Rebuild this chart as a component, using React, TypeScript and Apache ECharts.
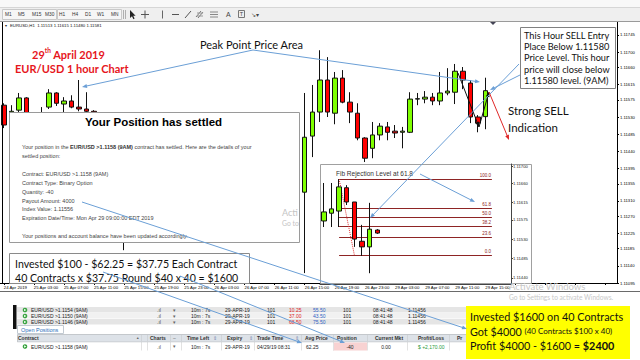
import React, { useEffect, useRef } from 'react';
import * as echarts from 'echarts';

// ---------------- data ----------------
const timeTickLabels = [
  '24 Apr 2019', '25 Apr 03:00', '25 Apr 07:00', '25 Apr 11:00', '25 Apr 15:00', '25 Apr 19:00',
  '25 Apr 23:00', '26 Apr 03:00', '26 Apr 07:00', '26 Apr 11:00', '26 Apr 15:00', '26 Apr 19:00',
  '26 Apr 23:00', '29 Apr 03:00', '29 Apr 07:00', '29 Apr 11:00', '29 Apr 15:00',
];
const barsPerTick = 4;
const mainSlots = 82;
// EURUSD H1 candles: [open, close, low, high]
const mainCandles = [
  [1.11543, 1.11491, 1.11483, 1.11548],
  [1.11517, 1.11527, 1.11512, 1.11543],
  [1.11530, 1.11562, 1.11525, 1.11575],
  [1.11562, 1.11504, 1.11499, 1.11564],
  [1.11504, 1.11495, 1.11485, 1.11515],
  [1.11495, 1.11520, 1.11488, 1.11538],
  [1.11538, 1.11575, 1.11533, 1.11585],
  [1.11575, 1.11548, 1.11541, 1.11577],
  [1.11546, 1.11554, 1.11525, 1.11564],
  [1.11554, 1.11538, 1.11535, 1.11569],
  [1.11538, 1.11533, 1.11527, 1.11609],
  [1.11533, 1.11527, 1.11522, 1.11577],
  [1.11527, 1.11510, 1.11500, 1.11530],
  [1.11510, 1.11480, 1.11470, 1.11515],
  [1.11480, 1.11395, 1.11380, 1.11485],
  [1.11395, 1.11290, 1.11270, 1.11400],
  [1.11290, 1.11215, 1.11163, 1.11300],
  [1.11215, 1.11245, 1.11195, 1.11260],
  [1.11245, 1.11230, 1.11220, 1.11280],
  [1.11230, 1.11210, 1.11200, 1.11255],
  [1.11210, 1.11225, 1.11190, 1.11240],
  [1.11225, 1.11240, 1.11210, 1.11250],
  [1.11240, 1.11250, 1.11225, 1.11265],
  [1.11250, 1.11245, 1.11235, 1.11270],
  [1.11245, 1.11255, 1.11230, 1.11260],
  [1.11255, 1.11270, 1.11245, 1.11280],
  [1.11270, 1.11265, 1.11255, 1.11290],
  [1.11265, 1.11250, 1.11240, 1.11275],
  [1.11250, 1.11240, 1.11230, 1.11265],
  [1.11240, 1.11225, 1.11215, 1.11255],
  [1.11225, 1.11245, 1.11210, 1.11250],
  [1.11245, 1.11260, 1.11235, 1.11270],
  [1.11260, 1.11235, 1.11230, 1.11275],
  [1.11235, 1.11215, 1.11205, 1.11250],
  [1.11215, 1.11230, 1.11200, 1.11240],
  [1.11230, 1.11240, 1.11215, 1.11255],
  [1.11240, 1.11260, 1.11220, 1.11270],
  [1.11260, 1.11285, 1.11245, 1.11295],
  [1.11285, 1.11300, 1.11270, 1.11310],
  [1.11300, 1.11315, 1.11285, 1.11325],
  [1.11315, 1.11459, 1.11103, 1.11575],
  [1.11462, 1.11525, 1.11407, 1.11596],
  [1.11525, 1.11609, 1.11499, 1.11687],
  [1.11609, 1.11525, 1.11512, 1.11669],
  [1.11522, 1.11614, 1.11493, 1.11630],
  [1.11614, 1.11551, 1.11548, 1.11635],
  [1.11551, 1.11525, 1.11496, 1.11577],
  [1.11522, 1.11457, 1.11451, 1.11548],
  [1.11457, 1.11404, 1.11394, 1.11459],
  [1.11430, 1.11465, 1.11404, 1.11499],
  [1.11465, 1.11488, 1.11451, 1.11496],
  [1.11486, 1.11472, 1.11451, 1.11499],
  [1.11475, 1.11470, 1.11457, 1.11491],
  [1.11472, 1.11475, 1.11430, 1.11486],
  [1.11472, 1.11559, 1.11470, 1.11577],
  [1.11559, 1.11560, 1.11543, 1.11575],
  [1.11559, 1.11564, 1.11548, 1.11580],
  [1.11564, 1.11554, 1.11543, 1.11575],
  [1.11554, 1.11575, 1.11543, 1.11630],
  [1.11575, 1.11580, 1.11569, 1.11640],
  [1.11577, 1.11632, 1.11546, 1.11651],
  [1.11632, 1.11609, 1.11585, 1.11643],
  [1.11601, 1.11512, 1.11496, 1.11609],
  [1.11512, 1.11496, 1.11472, 1.11517],
  [1.11513, 1.11581, 1.11480, 1.11615],
];
const priceTicks = [
  1.11745, 1.11700, 1.11660, 1.11615, 1.11575, 1.11530, 1.11485, 1.11440,
  1.11395, 1.11355, 1.11310, 1.11270, 1.11225, 1.11185, 1.11140, 1.11095,
];
const bidPrice = 1.11581;
const mainPriceRange = [1.11077, 1.11761];
const mainLabelRange = [1.11095, 1.11779];

// inset (fib) chart
const insetSlots = 25;
const insetCandles = [
  [1.11588, 1.11609, 1.11574, 1.11676],
  [1.11606, 1.11616, 1.11574, 1.11676],
  [1.11611, 1.11667, 1.11574, 1.11685],
  [1.11665, 1.11632, 1.11625, 1.11671],
  [1.11632, 1.11546, 1.11528, 1.11632],
  [1.11541, 1.11528, 1.11507, 1.11579],
  [1.11528, 1.11569, 1.11467, 1.11630],
  [1.11567, 1.11560, 1.11558, 1.11569],
];
const insetTicks = [1.11700, 1.11660, 1.11615, 1.11575, 1.11530, 1.11485, 1.11440];
const insetBid = 1.11560;
const insetPriceRange = [1.11442, 1.11720];
const insetLabelRange = [1.11426, 1.11705];
const fibHigh = 1.11685;
const fibLow = 1.11509;
const fibLevels = [100, 61.8, 50, 38.2, 23.6, 0];
const fibStartBar = 2;
const fibEndBar = 22;
const fibLowBar = 4;

// texts
const timeframes = ['M1', 'M5', 'M15', 'M30', 'H1', 'H4', 'D1', 'W1', 'MN'];
const sellNote = ['This Hour SELL Entry', 'Place Below 1.11580', 'Price Level. This hour', 'price will close below', '1.11580 level. (9AM)'];
const settledLines = [
  'settled position:',
  '',
  'Contract: EUR/USD >1.1158 (9AM)',
  'Contract Type: Binary Option',
  'Quantity: -40',
  'Payout Amount: 4000',
  'Index Value: 1.11556',
  'Expiration Date/Time: Mon Apr 29 09:00:00 EDT 2019',
  '',
  'Your positions and account balance have been updated accordingly.',
];
const investedLines = ['Invested $100 - $62.25 = $37.75 Each Contract', '40 Contracts x $37.75 Round $40 x 40 = $1600'];
const marketRows = [
  { contract: 'EUR/USD >1.1154 (9AM)', bid: '10.25', offer: '55.50' },
  { contract: 'EUR/USD >1.1150 (9AM)', bid: '37.00', offer: '43.50' },
  { contract: 'EUR/USD >1.1146 (9AM)', bid: '68.50', offer: '75.50' },
];
const marketCommon = { timeLeft: '10m : 7s', expiry: '29-APR-19', size: '101', time: '08:41:48', index: '1.11456' };
const headerNames = ['Contract', 'Charts', 'Time Left', 'Expiry', 'Trade Time', 'Avg Price', 'Position', 'Current Mkt', 'Profit/Loss', 'Pr'];
const openPosition = {
  contract: 'EUR/USD >1.1158 (9AM)', timeLeft: '10m : 7s', expiry: '29-APR-19',
  tradeTime: '04/29/19 08:31', avgPrice: '62.25', position: '-40', current: '0.00', pnl: '$ +2,170.00',
};

// ---------------- helpers ----------------
const UI = '"Liberation Sans", Arial, sans-serif';
const HUM = 'Lato, "Open Sans", sans-serif';
const BLUE = '#6b9fd6';

function txt(x: number, y: number, text: string, size: number, o: any = {}) {
  return {
    type: 'text', x, y, z: o.z ?? 20, silent: true,
    style: {
      text, fontSize: size, fontFamily: o.family ?? UI, fontWeight: o.weight ?? 'normal',
      fill: o.color ?? '#000', textAlign: o.align ?? 'left', textVerticalAlign: 'middle', rich: o.rich,
    },
  };
}
function rect(x: number, y: number, w: number, h: number, fill: string, stroke?: string, z = 10) {
  return { type: 'rect', z, silent: true, shape: { x, y, width: w, height: h }, style: { fill, stroke: stroke ?? null, lineWidth: 1 } };
}
function ln(x1: number, y1: number, x2: number, y2: number, color: string, z = 20, w = 1) {
  return { type: 'line', z, silent: true, shape: { x1, y1, x2, y2 }, style: { stroke: color, lineWidth: w } };
}
function head(x1: number, y1: number, x2: number, y2: number, color: string, z = 25) {
  const a = Math.atan2(y2 - y1, x2 - x1);
  const L = 5, W = 2;
  const bx = x2 - L * Math.cos(a), by = y2 - L * Math.sin(a);
  const px = -Math.sin(a) * W, py = Math.cos(a) * W;
  return { type: 'polygon', z, silent: true, shape: { points: [[x2, y2], [bx + px, by + py], [bx - px, by - py]] }, style: { fill: color } };
}
function arrow(x1: number, y1: number, x2: number, y2: number, color: string, z = 25) {
  const a = Math.atan2(y2 - y1, x2 - x1);
  return [ln(x1, y1, x2 - 4 * Math.cos(a), y2 - 4 * Math.sin(a), color, z), head(x1, y1, x2, y2, color, z)];
}

function buildGraphics() {
  const g: any[] = [];
  // window strip + toolbar
  g.push(rect(0, 0, 640, 8, '#f8f8f8', undefined, 1));
  g.push(rect(0, 8, 640, 13.5, '#efefef', undefined, 1));
  g.push(ln(0, 7.5, 640, 7.5, '#d6d6d6', 2));
  g.push(ln(0, 21.5, 640, 21.5, '#9a9a9a', 2));
  g.push(rect(2.5, 9.5, 54, 10, '#f6f6f6', '#c9c9c9', 2));
  g.push(rect(57.5, 9.5, 64, 10, '#f6f6f6', '#c9c9c9', 2));
  const tfX = [5, 18, 32, 45, 59, 72, 85, 97, 111];
  timeframes.forEach((t, i) => g.push(txt(tfX[i], 14.5, t, 4.8, { color: '#333', z: 3 })));
  g.push(ln(123.5, 10, 123.5, 19, '#b0b0b0', 3), ln(125.5, 10, 125.5, 19, '#b0b0b0', 3));
  g.push({ type: 'polygon', z: 3, silent: true, shape: { points: [[130, 10], [130, 18], [132, 16.3], [133.4, 19.2], [134.6, 18.6], [133.2, 15.8], [135.6, 15.8]] }, style: { fill: '#222' } });
  g.push(ln(141, 14.5, 149, 14.5, '#555', 3), ln(145, 10.5, 145, 18.5, '#555', 3));
  g.push(ln(162.5, 10.5, 162.5, 18.5, '#666', 3));
  g.push(ln(172, 14.5, 179, 14.5, '#555', 3));
  g.push(ln(185, 18, 191, 11, '#555', 3));
  g.push(ln(196, 17, 201, 11, '#777', 3), ln(198, 18, 203, 12, '#777', 3), ln(197, 13, 203, 13, '#999', 3), ln(197, 16, 203, 16, '#999', 3));
  g.push(ln(210, 12, 218, 12, '#888', 3), ln(210, 14.5, 218, 14.5, '#888', 3), ln(210, 17, 218, 17, '#888', 3));
  g.push(txt(226, 14.5, 'A', 7, { color: '#444', z: 3 }));
  g.push(rect(238.5, 10.5, 6, 7, 'none', '#777', 3), txt(239.7, 14.2, 'T', 5.5, { color: '#444', z: 3 }));
  g.push(txt(251, 14.5, '↘▾', 6, { color: '#444', z: 3 }));

  // chart frame bits
  g.push(ln(2.5, 22, 2.5, 283, '#000', 4));
  g.push({ type: 'polygon', z: 4, silent: true, shape: { points: [[490, 22], [496, 22], [493, 25]] }, style: { fill: '#445' } });
  const last = mainCandles[mainCandles.length - 1];
  g.push(txt(5, 25.5, '▾', 4, { color: '#222', z: 4 }));
  g.push(txt(10, 25.5, `EURUSD,H1  ${last[0].toFixed(5)} ${last[3].toFixed(5)} ${last[2].toFixed(5)} ${last[1].toFixed(5)}`, 4.3, { color: '#111', z: 4 }));
  g.push(ln(0, 291.5, 640, 291.5, '#6a6a6a', 4));

  // headline texts
  const red = '#e6161c';
  g.push(txt(32, 53, '{a|29}{b|th}{a| April 2019}', 11, {
    family: HUM, weight: 'bold', color: red,
    rich: {
      a: { fontSize: 11, fontFamily: HUM, fontWeight: 'bold', fill: red, verticalAlign: 'bottom', lineHeight: 13 },
      b: { fontSize: 6.5, fontFamily: HUM, fontWeight: 'bold', fill: red, verticalAlign: 'top', lineHeight: 13 },
    },
  }));
  g.push(txt(15, 68, 'EUR/USD 1 hour Chart', 11, { family: HUM, weight: 'bold', color: red }));
  g.push(txt(200, 44, 'Peak Point Price Area', 11, { family: HUM, color: '#111' }));

  // SELL note
  g.push(rect(520.5, 27.5, 95, 61, '#fff', '#808080', 10));
  sellNote.forEach((s, i) => g.push(txt(524, 35 + i * 11.4, s, 9.2, { family: HUM, color: '#111', z: 11 })));
  g.push(txt(508, 110, 'Strong SELL', 11.5, { family: HUM, color: '#111' }));
  g.push(txt(508, 127, 'Indication', 11.5, { family: HUM, color: '#111' }));

  // inset frame (covers main chart)
  g.push(rect(320.5, 164.5, 211, 119, '#fff', '#a0a0a0', 5));
  g.push(txt(336, 173, 'Fib Rejection Level at 61.8', 6.5, { color: '#333', z: 8 }));

  // settled box
  g.push(rect(9.5, 112.5, 290, 130, '#fff', '#9a9a9a', 10));
  g.push(txt(153.5, 122, 'Your Position has settled', 11.5, { weight: 'bold', align: 'center', z: 11 }));
  g.push(txt(22, 147, '{n|Your position in the }{b|EUR/USD >1.1158 (9AM)}{n| contract has settled. Here are the details of your}', 5.5, {
    color: '#444', z: 11,
    rich: {
      n: { fontSize: 5.5, fontFamily: UI, fill: '#444' },
      b: { fontSize: 5.5, fontFamily: UI, fontWeight: 'bold', fill: '#333' },
    },
  }));
  settledLines.forEach((s, i) => { if (s) g.push(txt(22, 156 + i * 8.9, s, 5.5, { color: '#444', z: 11 })); });
  g.push(txt(282, 212, 'Acti', 9, { family: HUM, color: '#c4c4c4', z: 11 }));
  g.push(txt(282, 223, 'Go to', 6.8, { family: HUM, color: '#c4c4c4', z: 11 }));

  // invested box
  g.push(rect(9.5, 253.5, 240, 30, '#fff', '#8a8a8a', 10));
  investedLines.forEach((s, i) => g.push(txt(15, 264 + i * 14, s, 10.6, { family: HUM, color: '#111', z: 11 })));

  // bottom panel
  g.push(rect(13, 305, 3.5, 24, '#111', undefined, 4));
  const rowX = { icon: 25, contract: 31, chart: 157, arrow: 173, timeLeft: 191, expiry: 225, size: 267, bid: 289, offer: 313, size2: 343, time: 373, index: 408 };
  const icon = (cx: number, cy: number) => [
    { type: 'circle', z: 6, silent: true, shape: { cx, cy, r: 2.3 }, style: { fill: '#35a23d' } },
    { type: 'polygon', z: 7, silent: true, shape: { points: [[cx - 0.9, cy - 1.2], [cx - 0.9, cy + 1.2], [cx + 1.3, cy]] }, style: { fill: '#fff' } },
  ];
  marketRows.forEach((r, i) => {
    const y = 307 + i * 6;
    const cy = y + 3;
    g.push(rect(17, y, 449, 5.6, i === 1 ? '#f1f1f1' : '#e5e5e5', undefined, 5));
    g.push(...icon(rowX.icon, cy));
    g.push(txt(rowX.contract, cy, r.contract, 5, { color: '#222', z: 7 }));
    g.push(txt(rowX.chart, cy, '.ıl', 5, { color: '#444', z: 7 }));
    g.push(txt(rowX.arrow, cy, '▾', 4.5, { color: '#666', z: 7 }));
    g.push(txt(rowX.timeLeft, cy, marketCommon.timeLeft, 5, { color: '#222', z: 7 }));
    g.push(txt(rowX.expiry, cy, marketCommon.expiry, 5, { color: '#222', z: 7 }));
    g.push(txt(rowX.size, cy, marketCommon.size, 5, { color: '#222', z: 7 }));
    g.push(txt(rowX.bid, cy, r.bid, 5, { color: '#d22', z: 7 }));
    g.push(txt(rowX.offer, cy, r.offer, 5, { color: '#2f5fc4', z: 7 }));
    g.push(txt(rowX.size2, cy, marketCommon.size, 5, { color: '#222', z: 7 }));
    g.push(txt(rowX.time, cy, marketCommon.time, 5, { color: '#222', z: 7 }));
    g.push(txt(rowX.index, cy, marketCommon.index, 5, { color: '#222', z: 7 }));
  });
  g.push(rect(17.5, 325.5, 46, 8, '#fff', '#c2cad2', 5));
  g.push(txt(21, 329.5, 'Open Positions', 5.5, { color: '#2a6ebb', z: 7 }));
  g.push(rect(17.5, 334.5, 449, 7.5, '#dde2e8', '#c4c8cc', 5));
  const headerX = [18, 150, 187, 227, 257, 305, 337, 375, 418, 457];
  headerNames.forEach((h, i) => g.push(txt(headerX[i], 338.3, h, 5, { color: '#333', weight: 'bold', z: 7 })));
  g.push(txt(136, 338.3, '▲', 3.5, { color: '#666', z: 7 }), txt(213, 338.3, '⇕', 4.5, { color: '#7a8ab0', z: 7 }),
    txt(249, 338.3, '⇕', 4.5, { color: '#7a8ab0', z: 7 }), txt(295, 338.3, '⇕', 4.5, { color: '#7a8ab0', z: 7 }),
    txt(173, 338.3, '–', 5, { color: '#666', z: 7 }));
  [141, 147, 170, 181, 221, 254, 301, 333, 367, 407, 449].forEach((x) => g.push(ln(x + 0.5, 335, x + 0.5, 350, '#d0d4d8', 6)));
  g.push(rect(17.5, 342.5, 449, 8, '#fff', undefined, 5));
  g.push(rect(333, 342.5, 34, 8, '#f8d2d2', undefined, 5));
  [141, 147, 170, 181, 221, 254, 301, 333, 367, 407, 449].forEach((x) => g.push(ln(x + 0.5, 342.5, x + 0.5, 350.5, '#e2e2e2', 6)));
  const cy = 346.5;
  g.push(...icon(25, cy));
  g.push(txt(31, cy, openPosition.contract, 5, { color: '#222', z: 7 }));
  g.push(txt(157, cy, '.ıl', 5, { color: '#444', z: 7 }), txt(173, cy, '▾', 4.5, { color: '#666', z: 7 }));
  g.push(txt(191, cy, openPosition.timeLeft, 5, { color: '#222', z: 7 }));
  g.push(txt(225, cy, openPosition.expiry, 5, { color: '#222', z: 7 }));
  g.push(txt(257, cy, openPosition.tradeTime, 5, { color: '#222', z: 7 }));
  g.push(txt(306, cy, openPosition.avgPrice, 5, { color: '#222', z: 7 }));
  g.push(txt(350, cy, openPosition.position, 5, { color: '#222', z: 7, align: 'center' }));
  g.push(txt(386, cy, openPosition.current, 5, { color: '#222', z: 7, align: 'center' }));
  g.push(txt(418, cy, openPosition.pnl, 5, { color: '#2a9a3a', z: 7 }));

  // yellow summary
  g.push(rect(466, 306, 164, 53, '#ffff00', undefined, 10));
  g.push(txt(470, 316, 'Invested $1600 on 40 Contracts', 10.8, { family: HUM, color: '#111', z: 11 }));
  g.push(txt(470, 331, '{a|Got $4000 }{s|(40 Contracts $100 x 40)}', 10.8, {
    family: HUM, color: '#111', z: 11,
    rich: { a: { fontSize: 10.8, fontFamily: HUM, fill: '#111' }, s: { fontSize: 8, fontFamily: HUM, fill: '#111' } },
  }));
  g.push(txt(470, 345, '{a|Profit $4000 - $1600 = }{b|$2400}', 10.8, {
    family: HUM, color: '#111', z: 11,
    rich: { a: { fontSize: 10.8, fontFamily: HUM, fill: '#111' }, b: { fontSize: 10.8, fontFamily: HUM, fontWeight: 'bold', fill: '#111' } },
  }));

  // annotation arrows
  g.push(...arrow(253, 50, 82, 87, BLUE));
  g.push(...arrow(253, 50, 480, 82, BLUE));
  g.push(...arrow(520, 75, 490, 90, BLUE));
  g.push(...arrow(519, 64, 370, 218, BLUE));
  g.push(...arrow(420, 174, 475, 202, BLUE));
  g.push(...arrow(82, 202, 467, 329, BLUE));
  g.push(...arrow(103, 272, 302, 343, BLUE));
  g.push(...arrow(180, 276, 345, 343, BLUE));
  g.push(...arrow(489, 92, 509, 140, '#e02828'));
  g.push({ type: 'polyline', z: 24, silent: true, shape: { points: [[458, 73], [479, 127], [489, 92]] }, style: { stroke: '#111', lineWidth: 1, fill: null } });
  g.push(head(458, 73, 479, 127, '#111', 24), head(479, 127, 489, 92, '#111', 24));

  // watermark
  g.push(txt(509, 286.5, 'Activate Windows', 9.5, { family: HUM, color: '#c8c8c8', z: 30 }));
  g.push(txt(509, 297, 'Go to Settings to activate Windows.', 6.6, { family: HUM, color: '#c8c8c8', z: 30 }));
  return g;
}

function buildOption() {
  const mainCats = Array.from({ length: mainSlots }, (_, i) => String(i));
  const insetCats = Array.from({ length: insetSlots }, (_, i) => String(i));
  const fibLines = fibLevels.map((lvl) => {
    const v = fibLow + ((fibHigh - fibLow) * lvl) / 100;
    return [{ name: lvl.toFixed(1), coord: [fibStartBar, v] }, { coord: [fibEndBar, v] }];
  });
  const diag = [
    { name: '', coord: [fibStartBar, fibHigh], lineStyle: { type: 'dotted', color: '#e03030', width: 1 }, label: { show: false } },
    { coord: [fibLowBar, fibLow] },
  ];
  const bidLabel = (v: number) => ({
    show: true, position: 'end', formatter: () => v.toFixed(5), backgroundColor: '#000', color: '#fff',
    fontSize: 4.2, fontFamily: UI, padding: [1, 1, 0, 1], distance: 2,
  });
  return {
    animation: false,
    backgroundColor: '#ffffff',
    graphic: { elements: buildGraphics() },
    grid: [
      { left: 0, top: 22, width: 617, height: 261, show: false },
      { left: 320, top: 164, width: 191, height: 120, show: false },
    ],
    xAxis: [
      {
        type: 'category', gridIndex: 0, data: mainCats, boundaryGap: true,
        axisLine: { show: true, lineStyle: { color: '#000', width: 1 } },
        axisTick: { show: true, interval: barsPerTick - 1, length: 2, lineStyle: { color: '#000' }, alignWithLabel: true },
        axisLabel: {
          show: true, interval: barsPerTick - 1, align: 'left', fontSize: 4.3, fontFamily: UI, color: '#000', margin: 2,
          formatter: (_v: string, i: number) => (i % barsPerTick === 0 ? timeTickLabels[i / barsPerTick] ?? '' : ''),
        },
        splitLine: { show: false },
      },
      {
        type: 'category', gridIndex: 1, data: insetCats, boundaryGap: true, z: 6,
        axisLine: { show: true, lineStyle: { color: '#444' } }, axisTick: { show: false }, axisLabel: { show: false }, splitLine: { show: false },
      },
    ],
    yAxis: [
      {
        type: 'value', gridIndex: 0, position: 'right', min: mainPriceRange[0], max: mainPriceRange[1], scale: true,
        axisLine: { show: true, lineStyle: { color: '#000' } }, axisTick: { show: false }, axisLabel: { show: false }, splitLine: { show: false },
      },
      {
        type: 'value', gridIndex: 0, position: 'right', min: mainLabelRange[0], max: mainLabelRange[1], scale: true,
        axisLine: { show: false },
        axisTick: { show: true, customValues: priceTicks, length: 2, lineStyle: { color: '#000' } },
        axisLabel: { show: true, customValues: priceTicks, formatter: (v: number) => v.toFixed(5), fontSize: 4.2, fontFamily: UI, color: '#000', margin: 3 },
        splitLine: { show: false },
      },
      {
        type: 'value', gridIndex: 1, position: 'right', min: insetPriceRange[0], max: insetPriceRange[1], scale: true, z: 6,
        axisLine: { show: true, lineStyle: { color: '#444' } }, axisTick: { show: false }, axisLabel: { show: false }, splitLine: { show: false },
      },
      {
        type: 'value', gridIndex: 1, position: 'right', min: insetLabelRange[0], max: insetLabelRange[1], scale: true, z: 6,
        axisLine: { show: false },
        axisTick: { show: true, customValues: insetTicks, length: 2, lineStyle: { color: '#444' } },
        axisLabel: { show: true, customValues: insetTicks, formatter: (v: number) => v.toFixed(5), fontSize: 4.2, fontFamily: UI, color: '#222', margin: 2 },
        splitLine: { show: false },
      },
    ],
    series: [
      {
        type: 'candlestick', xAxisIndex: 0, yAxisIndex: 0, data: mainCandles, barWidth: 5, z: 2,
        itemStyle: { color: '#7fff00', color0: '#ff0000', borderColor: '#111', borderColor0: '#111', borderWidth: 1 },
        markLine: {
          silent: true, symbol: ['none', 'none'], animation: false,
          lineStyle: { color: '#a9b3c4', width: 1, type: 'solid' },
          label: bidLabel(bidPrice),
          data: [{ yAxis: bidPrice }],
        },
      },
      {
        type: 'candlestick', xAxisIndex: 1, yAxisIndex: 2, data: insetCandles, barWidth: 5, z: 7,
        itemStyle: { color: '#7fff00', color0: '#ff0000', borderColor: '#111', borderColor0: '#111', borderWidth: 1 },
        markLine: {
          silent: true, symbol: ['none', 'none'], animation: false,
          lineStyle: { color: '#8e2424', width: 1, type: 'solid' },
          label: { show: true, position: 'insideEndTop', formatter: (p: any) => p.name, fontSize: 4.5, fontFamily: UI, color: '#8e2424', distance: 1 },
          data: [...fibLines, diag],
        },
      },
      {
        type: 'line', xAxisIndex: 1, yAxisIndex: 2, data: [], z: 7,
        markLine: {
          silent: true, symbol: ['none', 'none'], animation: false,
          lineStyle: { color: '#a9b3c4', width: 1, type: 'solid' },
          label: bidLabel(insetBid),
          data: [{ yAxis: insetBid }],
        },
      },
    ],
  };
}

export default function App() {
  const ref = useRef<HTMLDivElement>(null);
  useEffect(() => {
    document.body.style.margin = '0';
    if (!ref.current) return;
    const chart = echarts.init(ref.current, undefined, { renderer: 'svg' });
    chart.setOption(buildOption() as any);
    return () => chart.dispose();
  }, []);
  return <div ref={ref} style={{ width: 640, height: 360 }} />;
}
